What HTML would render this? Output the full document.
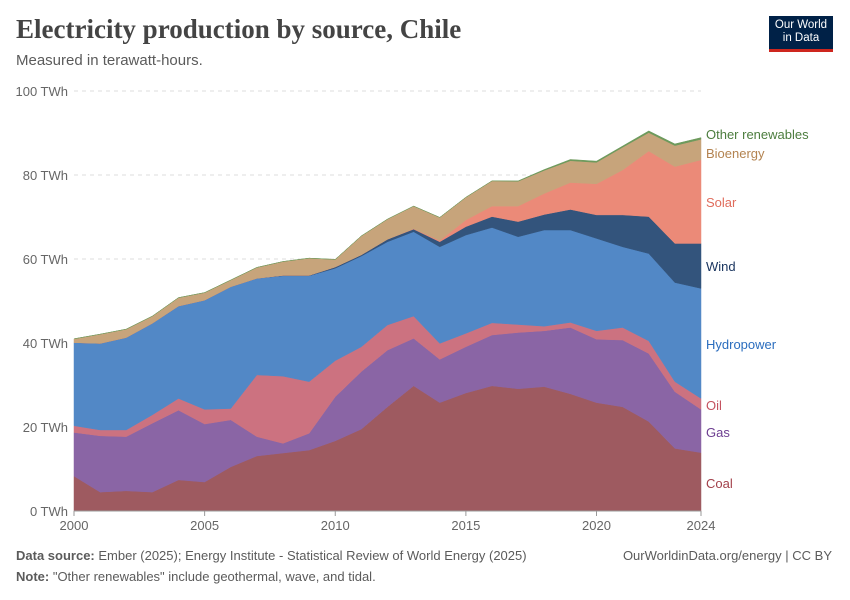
<!DOCTYPE html>
<html><head><meta charset="utf-8"><style>
body{margin:0;background:#fff;width:850px;height:600px;overflow:hidden;font-family:"Liberation Sans",sans-serif;}
.t{position:absolute;}
</style></head><body>
<div class="t" style="left:16px;top:14px;font-family:'Liberation Serif',serif;font-size:27px;font-weight:bold;color:#444;">Electricity production by source, Chile</div>
<div class="t" style="left:16px;top:52px;font-size:15px;color:#5b5b5b;">Measured in terawatt-hours.</div>
<div class="t" style="left:769px;top:16px;width:64px;height:36px;background:#002147;border-bottom:3px solid #ce261e;color:#fff;font-size:11.5px;line-height:13px;text-align:center;padding-top:3px;box-sizing:border-box;">Our World<br>in Data</div>
<svg id="chart" width="850" height="600" style="position:absolute;left:0;top:0"></svg>
<div class="t" style="left:16px;top:548px;font-size:13px;color:#5b5b5b;"><b>Data source:</b> Ember (2025); Energy Institute - Statistical Review of World Energy (2025)</div>
<div class="t" style="right:18px;top:548px;font-size:13px;color:#5b5b5b;">OurWorldinData.org/energy | CC BY</div>
<div class="t" style="left:16px;top:569px;font-size:13px;color:#5b5b5b;"><b>Note:</b> "Other renewables" include geothermal, wave, and tidal.</div>
<script>
const years=[2000,2001,2002,2003,2004,2005,2006,2007,2008,2009,2010,2011,2012,2013,2014,2015,2016,2017,2018,2019,2020,2021,2022,2023,2024];
const coal=[8.3,4.5,4.8,4.5,7.4,6.9,10.5,13.1,13.8,14.5,16.7,19.5,24.8,29.8,25.8,28.1,29.8,29.1,29.6,27.9,25.8,24.8,21.3,14.9,13.9];
const gas=[10.4,13.4,12.9,16.4,16.6,13.8,11.2,4.6,2.3,4.0,10.5,13.7,13.5,11.3,10.3,11.0,12.1,13.4,13.3,15.8,15.1,15.9,16.2,13.5,10.3];
const oil=[1.6,1.4,1.6,2.0,2.8,3.5,2.7,14.7,16.0,12.3,8.6,5.9,6.0,5.3,3.8,3.2,2.9,1.9,1.1,1.2,2.0,3.0,3.0,2.4,2.6];
const hydro=[19.8,20.6,22.0,21.8,22.0,26.0,29.0,23.0,23.9,25.2,22.0,21.6,19.8,20.1,23.0,23.4,22.7,20.9,22.9,22.0,22.0,19.2,20.8,23.6,26.2];
const wind=[0,0,0,0,0,0,0,0,0.1,0.1,0.3,0.3,0.6,0.6,1.2,2.0,2.6,3.6,3.7,4.9,5.6,7.6,8.8,9.3,10.7];
const solar=[0,0,0,0,0,0,0,0,0,0,0,0,0,0.1,0.3,1.6,2.5,3.7,5.0,6.4,7.4,10.7,15.6,18.3,19.9];
const bio=[0.9,2.2,2.0,1.7,2.0,1.8,1.6,2.6,3.3,4.1,1.8,4.5,4.8,5.4,5.5,5.4,6.0,5.9,5.5,5.2,5.1,5.4,4.4,5.0,4.9];
const other=[0,0,0,0,0,0,0,0,0,0,0,0,0,0,0,0,0,0.1,0.2,0.3,0.3,0.3,0.4,0.4,0.4];
const yTicks=[0,20,40,60,80,100];
const xTicks=[2000,2005,2010,2015,2020,2024];
const series=[
 {name:"Coal",v:coal,fill:"#9e5a60",lc:"#a2404a",ly:483},
 {name:"Gas",v:gas,fill:"#8a65a5",lc:"#6d3e91",ly:432},
 {name:"Oil",v:oil,fill:"#cc7280",lc:"#c4525f",ly:405},
 {name:"Hydropower",v:hydro,fill:"#5288c6",lc:"#2a6dbe",ly:344},
 {name:"Wind",v:wind,fill:"#33547c",lc:"#18335e",ly:266},
 {name:"Solar",v:solar,fill:"#eb8a78",lc:"#e06c5c",ly:202},
 {name:"Bioenergy",v:bio,fill:"#c7a47b",lc:"#b38350",ly:153},
 {name:"Other renewables",v:other,fill:"#6d9a5c",lc:"#4c7d3e",ly:134}];
const X0=74,X1=701,Y0=511,Y1=91;
const xs=y=>X0+(y-2000)/24*(X1-X0);
const ys=v=>Y0-v/100*(Y0-Y1);
const svg=document.getElementById('chart');const NS="http://www.w3.org/2000/svg";
function mk(t,a){const e=document.createElementNS(NS,t);for(const k in a)e.setAttribute(k,a[k]);svg.appendChild(e);return e;}
yTicks.forEach(t=>{
 const l=mk('line',{x1:X0,x2:X1,y1:ys(t),y2:ys(t),stroke:t?'#ddd':'#999','stroke-dasharray':t?'4,4':'none'});
 
 
 const tx=mk('text',{x:68,y:ys(t)+5,'text-anchor':'end','font-size':13,fill:'#666','font-family':'Liberation Sans'});
 tx.textContent=t+' TWh';
 
 
});
let base=years.map(()=>0);
series.forEach(s=>{
 const top=base.map((b,i)=>b+s.v[i]);
 let d='M'+years.map((y,i)=>xs(y)+','+ys(top[i])).join('L');
 for(let i=years.length-1;i>=0;i--)d+='L'+xs(years[i])+','+ys(base[i]);
 const p=mk('path',{d:d+'Z',fill:s.fill,stroke:s.fill,'stroke-width':0.5});
 
 
 const tx=mk('text',{x:706,y:s.ly+5,'font-size':13,fill:s.lc,'font-family':'Liberation Sans'});
 tx.textContent=s.name;
 
 
 base=top;
});
mk('line',{x1:X0,x2:X1,y1:Y0,y2:Y0,stroke:'#999'});
xTicks.forEach(t=>{
 mk('line',{x1:xs(t),x2:xs(t),y1:Y0,y2:Y0+5,stroke:'#999'});
 const tx=mk('text',{x:xs(t),y:530,'text-anchor':'middle','font-size':13,fill:'#666','font-family':'Liberation Sans'});
 tx.textContent=t;
 
 
});
</script>
</body></html>
